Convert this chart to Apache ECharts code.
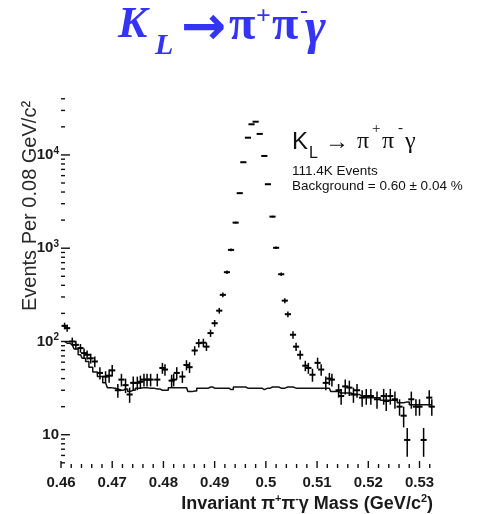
<!DOCTYPE html>
<html>
<head>
<meta charset="utf-8">
<script src="https://cdn.jsdelivr.net/npm/echarts@6/dist/echarts.min.js"></script>
<style>
  html, body { margin: 0; padding: 0; background: #fff; }
  #chart { width: 481px; height: 514px; }
</style>
</head>
<body>
<div id="chart"></div>
<script>
// invariant mass bin centres (GeV/c^2)
const mass = [
  0.4607, 0.4612, 0.4622, 0.4629, 0.4638, 0.4645, 0.4651, 0.4658, 0.4666, 0.4676,
  0.4687, 0.4694, 0.4700, 0.4711, 0.4718, 0.4726, 0.4734, 0.4741, 0.4749, 0.4755,
  0.4762, 0.4768, 0.4775, 0.4788, 0.4798, 0.4803, 0.4816, 0.4820, 0.4826, 0.4837,
  0.4845, 0.4851, 0.4861, 0.4869, 0.4878, 0.4884, 0.4892, 0.4900, 0.4909, 0.4916,
  0.4924, 0.4932, 0.4941, 0.4949, 0.4956, 0.4965, 0.4972, 0.4980, 0.4988, 0.4997,
  0.5004, 0.5013, 0.5020, 0.5030, 0.5037, 0.5043, 0.5053, 0.5059, 0.5067, 0.5077,
  0.5083, 0.5091, 0.5101, 0.5108, 0.5117, 0.5124, 0.5129, 0.5142, 0.5147, 0.5155,
  0.5163, 0.5171, 0.5178, 0.5188, 0.5196, 0.5205, 0.5217, 0.5230, 0.5235, 0.5243,
  0.5252, 0.5261, 0.5269, 0.5276, 0.5284, 0.5293, 0.5300, 0.5308, 0.5319, 0.5324
];
// data events per bin
const events = [
  147, 139, 100, 92, 85, 75, 72, 66, 61, 46,
  42, 43, 49, 30, 39, 34, 27, 36, 36, 37,
  39, 39, 39, 39, 52, 50, 38, 39, 46, 42,
  56, 53, 80, 96, 97, 88, 123, 157, 214, 316,
  553, 959, 1880, 3890, 8350, 15300, 21300, 22700, 16800, 9750,
  4850, 2180, 1010, 526, 274, 196, 118, 88, 72, 55,
  52, 44, 59, 50, 36, 40, 39, 30, 26, 33,
  32, 27, 30, 25, 26, 26, 24, 26, 23, 26,
  24, 20, 16, 8.8, 24, 20, 20, 8.8, 25, 20
];
// error bar half heights
const errors = [
  12, 12, 10, 10, 9, 9, 8, 8, 8, 7,
  6, 7, 7, 5, 6, 6, 5, 6, 6, 6,
  6, 6, 6, 6, 7, 7, 6, 6, 7, 6,
  7, 7, 9, 10, 10, 9, 11, 13, 15, 18,
  24, 31, 43, 62, 91, 124, 146, 151, 130, 99,
  70, 47, 32, 23, 17, 14, 11, 9, 8, 7,
  7, 7, 8, 7, 6, 6, 6, 5, 5, 6,
  6, 5, 5, 5, 5, 5, 5, 5, 5, 5,
  5, 4, 4, 3, 5, 4, 4, 3, 5, 4
];
// background histogram (MC)
const background = [
  100, 96, 92, 83, 72, 66, 61, 53, 47, 42,
  36, 32, 31.6, 31, 30, 31, 29, 30, 31.6, 31.6,
  32, 32, 31.6, 31, 30, 30, 32, 32, 32, 32,
  32, 29, 29.5, 31.6, 31.6, 31.6, 32.5, 31.6, 31.6, 31.6,
  31.6, 30.5, 32.5, 32.5, 32.5, 31.6, 31.6, 31.6, 31.6, 30.5,
  31.6, 32.5, 32.5, 31.6, 31.6, 32.5, 32.5, 31.6, 31.6, 31.6,
  31.6, 31.6, 31.6, 31.6, 31.6, 31.6, 29, 29, 28, 28,
  28, 27, 27, 25.7, 25, 25, 25, 23.5, 23.5, 23.5,
  23.5, 22, 22, 22.5, 21, 21, 21, 21, 21, 21
];

const xMajorTicks = [0.46, 0.47, 0.48, 0.49, 0.50, 0.51, 0.52, 0.53];
const xMinorTicks = [
  0.462, 0.464, 0.466, 0.468, 0.472, 0.474, 0.476, 0.478,
  0.482, 0.484, 0.486, 0.488, 0.492, 0.494, 0.496, 0.498,
  0.502, 0.504, 0.506, 0.508, 0.512, 0.514, 0.516, 0.518,
  0.522, 0.524, 0.526, 0.528, 0.532
];
const yMajorTicks = [10, 100, 1000, 10000];
const yMinorTicks = [
  5, 6, 7, 8, 9,
  20, 30, 40, 50, 60, 70, 80, 90,
  200, 300, 400, 500, 600, 700, 800, 900,
  2000, 3000, 4000, 5000, 6000, 7000, 8000, 9000,
  20000, 30000, 40000
];

const HALF_BIN = 0.0006;
const BLUE = '#3434f6';

const chart = echarts.init(document.getElementById('chart'), null, { renderer: 'canvas' });

// short tick marks drawn inside the frame
const tickSeries = (values, axis, len) => ({
  type: 'custom',
  silent: true,
  z: 5,
  data: values.map(v => axis === 'x' ? [v, 10] : [0.47, v]),
  encode: { x: 0, y: 1 },
  renderItem: (params, api) => {
    const cs = params.coordSys;
    const p = api.coord([api.value(0), api.value(1)]);
    const shape = axis === 'x'
      ? { x1: p[0], y1: cs.y + cs.height, x2: p[0], y2: cs.y + cs.height - len }
      : { x1: cs.x, y1: p[1], x2: cs.x + len, y2: p[1] };
    return { type: 'line', shape, style: { stroke: '#111', lineWidth: 1.4 } };
  }
});

// text placed by its top edge
const txt = (text, x, y, font, color) => ({
  type: 'text', x, y, silent: true,
  style: { text, font, fill: color || '#111' }
});

const option = {
  animation: false,
  backgroundColor: '#fff',
  grid: { left: 61, right: 41, top: 94, bottom: 46, outerBoundsMode: 'none' },
  xAxis: {
    type: 'value',
    min: 0.46, max: 0.534, interval: 0.01,
    axisLine: { show: false },
    axisTick: { show: false },
    splitLine: { show: false },
    axisLabel: {
      showMaxLabel: false,
      margin: 7,
      color: '#1a1a1a',
      fontFamily: 'Liberation Sans',
      fontWeight: 'bold',
      fontSize: 15
    }
  },
  yAxis: {
    type: 'log',
    logBase: 10,
    min: 4.4, max: 45000,
    axisLine: { show: false },
    axisTick: { show: false },
    splitLine: { show: false },
    axisLabel: {
      showMinLabel: false,
      showMaxLabel: false,
      margin: 2,
      formatter: v => {
        const p = Math.round(Math.log10(v));
        if (Math.abs(v - Math.pow(10, p)) > 1e-6 * v) return '';
        return p === 1 ? '{b|10}' : '{b|10}{s|' + p + '}';
      },
      rich: {
        b: { fontFamily: 'Liberation Sans', fontWeight: 'bold', fontSize: 15, color: '#1a1a1a', lineHeight: 18 },
        s: { fontFamily: 'Liberation Sans', fontWeight: 'bold', fontSize: 10, color: '#1a1a1a', lineHeight: 9, verticalAlign: 'top' }
      }
    }
  },
  graphic: [
    // main title
    txt('K', 118, 4, 'italic bold 44px "Liberation Serif"', BLUE),
    txt('L', 155, 31, 'italic bold 30px "Liberation Serif"', BLUE),
    txt('\u2192', 181, 3, 'bold 54px "DejaVu Sans"', BLUE),
    txt('\u03c0', 229, 3, 'bold 48px "Liberation Serif"', BLUE),
    txt('+', 256, 4, 'bold 26px "Liberation Serif"', BLUE),
    txt('\u03c0', 272, 3, 'bold 48px "Liberation Serif"', BLUE),
    txt('-', 300, 0, 'bold 24px "Liberation Serif"', BLUE),
    txt('\u03b3', 305, 5, 'italic bold 50px "Liberation Serif"', BLUE),
    // in-plot legend
    txt('K', 292, 130, '24px "Liberation Sans"'),
    txt('L', 309, 146, '16px "Liberation Sans"'),
    txt('\u2192', 325, 130, '24px "Liberation Sans"'),
    txt('\u03c0', 357, 130, '24px "Liberation Serif"'),
    txt('+', 372, 122, '15px "Liberation Serif"'),
    txt('\u03c0', 382, 130, '24px "Liberation Serif"'),
    txt('-', 398, 121, '15px "Liberation Serif"'),
    txt('\u03b3', 405, 130, '24px "Liberation Serif"'),
    txt('111.4K Events', 292, 164, '13.5px "Liberation Sans"'),
    txt('Background = 0.60 \u00b1 0.04 %', 292, 179, '13.5px "Liberation Sans"'),
    // axis titles
    {
      type: 'text', x: 30, y: 206, rotation: Math.PI / 2, silent: true,
      style: {
        text: 'Events Per 0.08 GeV/c\u00b2',
        font: '20px "Liberation Sans"', fill: '#2a2a2a',
        align: 'center', verticalAlign: 'middle'
      }
    },
    {
      type: 'text', x: 433, y: 515, silent: true,
      style: {
        text: '{t|Invariant \u03c0}{s|+}{t|\u03c0}{s|-}{t|\u03b3 Mass (GeV/c}{s|2}{t|)}',
        align: 'right', verticalAlign: 'bottom',
        rich: {
          t: { font: 'bold 18px "Liberation Sans"', fill: '#1a1a1a', lineHeight: 22 },
          s: { font: 'bold 11px "Liberation Sans"', fill: '#1a1a1a', lineHeight: 11, verticalAlign: 'top' }
        }
      }
    }
  ],
  series: [
    {
      name: 'background',
      type: 'line',
      step: 'middle',
      symbol: 'none',
      silent: true,
      z: 2,
      lineStyle: { color: '#111', width: 1.5 },
      data: mass.map((m, i) => [m, background[i]])
    },
    {
      name: 'data',
      type: 'custom',
      silent: true,
      z: 3,
      encode: { x: 0, y: 1 },
      data: mass.map((m, i) => [m, events[i], errors[i]]),
      renderItem: (params, api) => {
        const m = api.value(0), n = api.value(1), e = api.value(2);
        const top = api.coord([m, n + e]);
        const bot = api.coord([m, n - e]);
        const l = api.coord([m - HALF_BIN, n]);
        const r = api.coord([m + HALF_BIN, n]);
        return {
          type: 'group',
          children: [
            { type: 'line', shape: { x1: top[0], y1: top[1], x2: bot[0], y2: bot[1] }, style: { stroke: '#000', lineWidth: 1.5 } },
            { type: 'line', shape: { x1: l[0], y1: l[1], x2: r[0], y2: r[1] }, style: { stroke: '#000', lineWidth: 2 } }
          ]
        };
      }
    },
    tickSeries(xMajorTicks, 'x', 7),
    tickSeries(xMinorTicks, 'x', 4),
    tickSeries(yMajorTicks, 'y', 9),
    tickSeries(yMinorTicks, 'y', 4)
  ]
};

chart.setOption(option);
window.addEventListener('resize', () => chart.resize());
</script>
</body>
</html>
